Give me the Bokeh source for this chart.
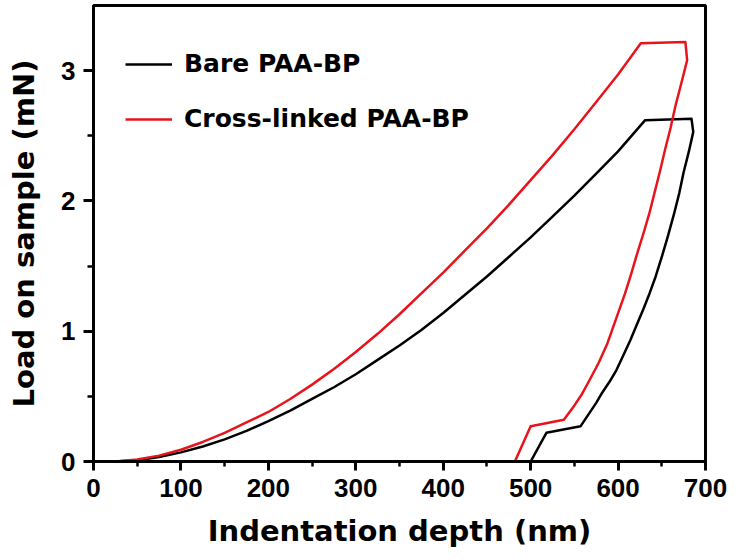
from bokeh.plotting import figure
from bokeh.models import Range1d, Legend, LegendItem, FixedTicker
from bokeh.embed import file_html
from bokeh.resources import INLINE

# Bare PAA-BP: loading, hold, unloading (depth in nm, load in mN)
bare_depth = [0, 25, 50, 75, 100, 125, 150, 175, 200, 225, 250, 275, 300, 325, 350, 375, 400,
              425, 450, 475, 500, 525, 550, 575, 600, 631,
              684, 686, 681, 675, 670, 664, 657, 650, 643, 636, 629, 622, 614, 605, 598, 590,
              582, 575, 566, 557, 518, 500]
bare_load = [0.0, 0.0, 0.01, 0.035, 0.07, 0.115, 0.17, 0.235, 0.31, 0.39, 0.48, 0.57, 0.67, 0.78,
             0.89, 1.01, 1.14, 1.28, 1.42, 1.57, 1.72, 1.88, 2.04, 2.21, 2.38, 2.62,
             2.63, 2.53, 2.38, 2.22, 2.06, 1.90, 1.73, 1.57, 1.42, 1.29, 1.17, 1.06, 0.93, 0.80,
             0.70, 0.61, 0.53, 0.45, 0.36, 0.27, 0.22, 0.0]

# Cross-linked PAA-BP
cl_depth = [0, 25, 50, 75, 100, 125, 150, 175, 200, 225, 250, 275, 300, 325, 350, 375, 400,
            425, 450, 475, 500, 525, 550, 575, 600, 626,
            677, 679, 673, 666, 660, 654, 648, 642, 636, 629, 622, 615, 608, 598, 588, 578,
            567, 558, 548, 538, 500, 482]
cl_load = [0.0, 0.0, 0.015, 0.045, 0.09, 0.15, 0.22, 0.30, 0.38, 0.48, 0.59, 0.71, 0.84, 0.98,
           1.13, 1.29, 1.45, 1.62, 1.79, 1.97, 2.16, 2.35, 2.55, 2.76, 2.97, 3.21,
           3.22, 3.08, 2.92, 2.74, 2.56, 2.40, 2.23, 2.07, 1.91, 1.75, 1.60, 1.44, 1.29, 1.10,
           0.91, 0.76, 0.62, 0.51, 0.41, 0.32, 0.27, 0.0]

x_ticks = [0, 100, 200, 300, 400, 500, 600, 700]
x_minor = [50, 150, 250, 350, 450, 550, 650]
y_ticks = [0, 1, 2, 3]
y_minor = [0.5, 1.5, 2.5]

series_names = ["Bare PAA-BP", "Cross-linked PAA-BP"]
series_colors = ["#000000", "#e8141c"]

p = figure(width=736, height=552, output_backend="svg", toolbar_location=None,
           x_range=Range1d(0, 700), y_range=Range1d(0, 3.5),
           min_border_left=93, min_border_right=31, min_border_top=5, min_border_bottom=91)

p.xgrid.visible = False
p.ygrid.visible = False
p.outline_line_color = "black"
p.outline_line_width = 3
p.outline_line_alpha = 1.0
p.background_fill_color = "white"
p.border_fill_color = "white"

r1 = p.line(bare_depth, bare_load, line_color=series_colors[0], line_width=2.5, line_join="round")
r2 = p.line(cl_depth, cl_load, line_color=series_colors[1], line_width=2.5, line_join="round")

p.xaxis.ticker = FixedTicker(ticks=x_ticks, minor_ticks=x_minor)
p.yaxis.ticker = FixedTicker(ticks=y_ticks, minor_ticks=y_minor)

for ax in (p.xaxis[0], p.yaxis[0]):
    ax.axis_line_color = "black"
    ax.axis_line_width = 3
    ax.major_tick_line_color = "black"
    ax.major_tick_line_width = 3
    ax.minor_tick_line_color = "black"
    ax.minor_tick_line_width = 2.5
    ax.major_tick_in = 0
    ax.minor_tick_in = 0
    ax.major_label_text_font = "Liberation Sans"
    ax.major_label_text_font_style = "bold"
    ax.major_label_text_font_size = "26px"
    ax.major_label_text_color = "black"
    ax.axis_label_text_font = "DejaVu Sans"
    ax.axis_label_text_font_style = "bold"
    ax.axis_label_text_font_size = "29px"
    ax.axis_label_text_color = "black"
    ax.axis_label_text_line_height = 1.0

p.xaxis.major_tick_out = 9
p.xaxis.minor_tick_out = 5
p.xaxis.major_label_standoff = 8
p.xaxis.axis_label = "Indentation depth (nm)"
p.xaxis.axis_label_standoff = 14

p.yaxis.major_tick_out = 10
p.yaxis.minor_tick_out = 6
p.yaxis.major_label_standoff = 8
p.yaxis.axis_label = "Load on sample (mN)"
p.yaxis.axis_label_standoff = 17

legend = Legend(items=[LegendItem(label=series_names[0], renderers=[r1]),
                       LegendItem(label=series_names[1], renderers=[r2])],
                location=(32, 328), glyph_width=47, glyph_height=20, label_standoff=12,
                spacing=26, padding=0, margin=0, border_line_alpha=0,
                background_fill_alpha=0,
                label_text_font="DejaVu Sans", label_text_font_style="bold",
                label_text_font_size="25px", label_text_color="black")
p.add_layout(legend)

open("out.html", "w").write(file_html(p, INLINE))
